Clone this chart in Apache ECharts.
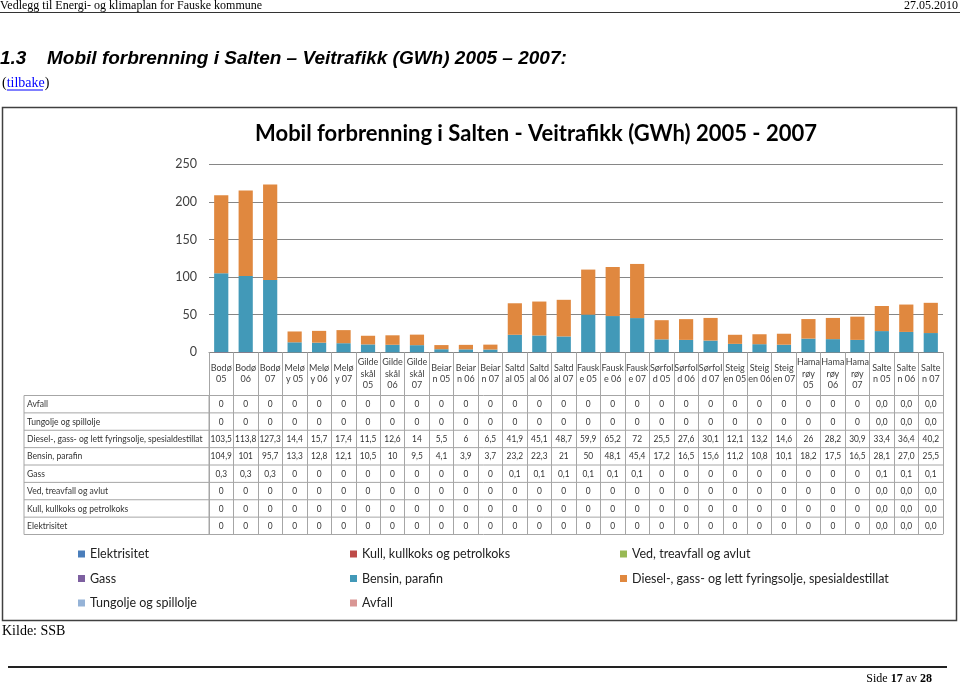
<!DOCTYPE html>
<html><head><meta charset="utf-8">
<script src="https://cdn.jsdelivr.net/npm/echarts@6/dist/echarts.min.js"></script>
<style>html,body{margin:0;padding:0;background:#fff}#c{width:960px;height:684px}</style>
</head><body><div id="c"></div>
<script>
// ---- data ----
const categories = ['Bodø\n05','Bodø\n06','Bodø\n07','Melø\ny 05','Melø\ny 06','Melø\ny 07',
 'Gilde\nskål\n05','Gilde\nskål\n06','Gilde\nskål\n07','Beiar\nn 05','Beiar\nn 06','Beiar\nn 07',
 'Saltd\nal 05','Saltd\nal 06','Saltd\nal 07','Fausk\ne 05','Fausk\ne 06','Fausk\ne 07',
 'Sørfol\nd 05','Sørfol\nd 06','Sørfol\nd 07','Steig\nen 05','Steig\nen 06','Steig\nen 07',
 'Hama\nrøy\n05','Hama\nrøy\n06','Hama\nrøy\n07','Salte\nn 05','Salte\nn 06','Salte\nn 07'];
const elektrisitet = [0,0,0,0,0,0,0,0,0,0,0,0,0,0,0,0,0,0,0,0,0,0,0,0,0,0,0,0,0,0];
const kull         = [0,0,0,0,0,0,0,0,0,0,0,0,0,0,0,0,0,0,0,0,0,0,0,0,0,0,0,0,0,0];
const ved          = [0,0,0,0,0,0,0,0,0,0,0,0,0,0,0,0,0,0,0,0,0,0,0,0,0,0,0,0,0,0];
const gass         = [0.3,0.3,0.3,0,0,0,0,0,0,0,0,0,0.1,0.1,0.1,0.1,0.1,0.1,0,0,0,0,0,0,0,0,0,0.1,0.1,0.1];
const bensin       = [104.9,101,95.7,13.3,12.8,12.1,10.5,10,9.5,4.1,3.9,3.7,23.2,22.3,21,50,48.1,45.4,17.2,16.5,15.6,11.2,10.8,10.1,18.2,17.5,16.5,28.1,27.0,25.5];
const diesel       = [103.5,113.8,127.3,14.4,15.7,17.4,11.5,12.6,14,5.5,6,6.5,41.9,45.1,48.7,59.9,65.2,72,25.5,27.6,30.1,12.1,13.2,14.6,26,28.2,30.9,33.4,36.4,40.2];
const tungolje     = [0,0,0,0,0,0,0,0,0,0,0,0,0,0,0,0,0,0,0,0,0,0,0,0,0,0,0,0,0,0];
const avfall       = [0,0,0,0,0,0,0,0,0,0,0,0,0,0,0,0,0,0,0,0,0,0,0,0,0,0,0,0,0,0];
const yTicks = [0,50,100,150,200,250];

const seriesDefs = [
  {name:'Elektrisitet', data:elektrisitet, color:'#4A7EBB'},
  {name:'Kull, kullkoks og petrolkoks', data:kull, color:'#BE4B48'},
  {name:'Ved, treavfall og avlut', data:ved, color:'#98B954'},
  {name:'Gass', data:gass, color:'#7D60A0'},
  {name:'Bensin, parafin', data:bensin, color:'#4299B8'},
  {name:'Diesel-, gass- og lett fyringsolje, spesialdestillat', data:diesel, color:'#E0883F'},
  {name:'Tungolje og spillolje', data:tungolje, color:'#95B3D7'},
  {name:'Avfall', data:avfall, color:'#D99694'}
];
const tableRows = ['Avfall','Tungolje og spillolje','Diesel-, gass- og lett fyringsolje, spesialdestillat','Bensin, parafin','Gass','Ved, treavfall og avlut','Kull, kullkoks og petrolkoks','Elektrisitet'];

const F = 'Lato, "Open Sans", sans-serif';
const chart = echarts.init(document.getElementById('c'), null, {renderer:'canvas'});

const GL = 209, GR = 943, GT = 164.3, GB = 352.3;
const TT = 395.5, RH = 17.375, TL = 24;

chart.setOption({
  backgroundColor:'#fff',
  animation:false,
  grid:{left:GL, right:960-GR, top:GT, bottom:684-GB, containLabel:false},
  xAxis:{type:'category', data:categories, boundaryGap:true,
    axisLine:{lineStyle:{color:'#868686', width:1}},
    axisTick:{show:true, interval:0, length:182, lineStyle:{color:'#a6a6a6', width:1}},
    axisLabel:{interval:0, fontFamily:F, fontSize:9, lineHeight:11.5, color:'#404040', verticalAlign:'middle', margin:21.5}
  },
  yAxis:{type:'value', min:yTicks[0], max:yTicks[yTicks.length-1], interval:50,
    axisLine:{show:false}, axisTick:{show:false},
    splitLine:{lineStyle:{color:'#868686', width:1}},
    axisLabel:{fontFamily:F, fontSize:12.5, color:'#404040', margin:12}
  },
  legend:[
    {data:[seriesDefs[0].name, seriesDefs[3].name, seriesDefs[6].name]},
    {data:[seriesDefs[1].name, seriesDefs[4].name, seriesDefs[7].name]},
    {data:[seriesDefs[2].name, seriesDefs[5].name]}
  ].map((l,i)=>({data:l.data, orient:'vertical', left:[78,350,620][i], top:547, itemGap:10.5,
      icon:'rect', itemWidth:7, itemHeight:7, padding:0, selectedMode:false,
      textStyle:{fontFamily:F, fontSize:12.5, color:'#222', lineHeight:14}})),
  series: seriesDefs.map(s=>({name:s.name, type:'bar', stack:'total', data:s.data, barWidth:'58%',
      itemStyle:{color:s.color}}))
});

// ---- table & page graphics ----
function fmt(v, i){ return (i>=27 ? v.toFixed(1) : String(v)).replace('.', ','); }
const rowData = {};
seriesDefs.forEach(s=>rowData[s.name]=s.data);
const g = [];
for(let k=0;k<=8;k++){
  const y = TT + k*RH;
  g.push({type:'line', shape:{x1:TL, y1:y, x2:GR, y2:y}, style:{stroke:'#a6a6a6', lineWidth:1}, silent:true});
}
g.push({type:'line', shape:{x1:TL, y1:TT, x2:TL, y2:TT+8*RH}, style:{stroke:'#a6a6a6', lineWidth:1}});
g.push({type:'line', shape:{x1:GL, y1:TT, x2:GL, y2:TT+8*RH}, style:{stroke:'#a6a6a6', lineWidth:1}});
tableRows.forEach((name, r)=>{
  const yc = TT + (r+0.5)*RH;
  g.push({type:'text', x:TL+3, y:yc, scaleX:0.9, style:{text:name, fontFamily:F, fontSize:9.5, fill:'#333', verticalAlign:'middle'}});
  rowData[name].forEach((v,i)=>{
    const px = chart.convertToPixel({xAxisIndex:0}, i);
    g.push({type:'text', x:px, y:yc, scaleX:0.88, style:{text:fmt(v,i), fontFamily:F, fontSize:9.5, fill:'#333', align:'center', verticalAlign:'middle'}});
  });
});
g.push({type:'text', x:536, y:134, style:{text:'Mobil forbrenning i Salten - Veitrafikk (GWh) 2005 - 2007', fontFamily:F, fontWeight:'bold', fontSize:22, fill:'#000', align:'center', verticalAlign:'middle'}});
g.push({type:'rect', shape:{x:2.5, y:107.5, width:954, height:513}, style:{fill:null, stroke:'#404040', lineWidth:1.5}});
const SERIF = '"Liberation Serif", "DejaVu Serif", serif';
g.push({type:'text', x:0, y:6, style:{text:'Vedlegg til Energi- og klimaplan for Fauske kommune', fontFamily:SERIF, fontSize:12, fill:'#000', verticalAlign:'middle'}});
g.push({type:'text', x:958, y:6, style:{text:'27.05.2010', fontFamily:SERIF, fontSize:12, fill:'#000', align:'right', verticalAlign:'middle'}});
g.push({type:'line', shape:{x1:0, y1:12.5, x2:960, y2:12.5}, style:{stroke:'#333', lineWidth:1}});
const SANS = '"Liberation Sans", Arial, sans-serif';
g.push({type:'text', x:0, y:59, style:{text:'1.3', fontFamily:SANS, fontStyle:'italic', fontWeight:'bold', fontSize:19, fill:'#000', verticalAlign:'middle'}});
g.push({type:'text', x:47, y:59, style:{text:'Mobil forbrenning i Salten – Veitrafikk (GWh) 2005 – 2007:', fontFamily:SANS, fontStyle:'italic', fontWeight:'bold', fontSize:19, fill:'#000', verticalAlign:'middle'}});
g.push({type:'text', x:2, y:83, style:{text:'({a|tilbake})', fontFamily:SERIF, fontSize:14, fill:'#000', verticalAlign:'middle', rich:{a:{fontFamily:SERIF, fontSize:14, fill:'#0000ff'}}}});
g.push({type:'line', shape:{x1:7, y1:90, x2:43, y2:90}, style:{stroke:'#0000ff', lineWidth:1}});
g.push({type:'text', x:2, y:631, style:{text:'Kilde: SSB', fontFamily:SERIF, fontSize:14, fill:'#000', verticalAlign:'middle'}});
g.push({type:'line', shape:{x1:8, y1:667, x2:947, y2:667}, style:{stroke:'#222', lineWidth:2}});
g.push({type:'text', x:932, y:679, style:{text:'Side {b|17} av {b|28}', fontFamily:SERIF, fontSize:12, fill:'#000', align:'right', verticalAlign:'middle', rich:{b:{fontFamily:SERIF, fontSize:12, fontWeight:'bold'}}}});

chart.setOption({graphic:g});
</script></body></html>
